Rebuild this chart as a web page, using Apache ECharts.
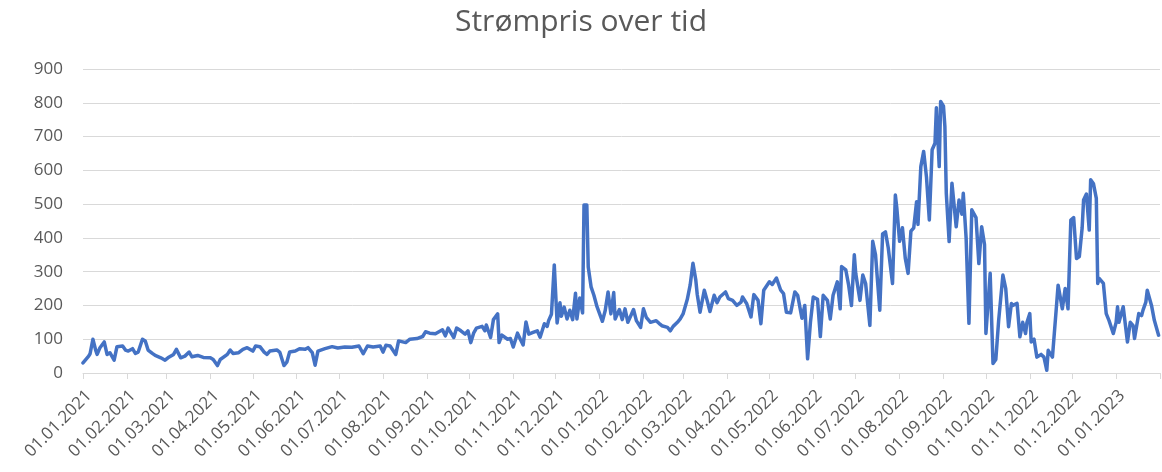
<!DOCTYPE html>
<html>
<head>
<meta charset="utf-8">
<script src="https://cdn.jsdelivr.net/npm/echarts@6/dist/echarts.min.js"></script>
<style>
  html, body { margin: 0; padding: 0; background: #fff; }
  #chart { width: 1162px; height: 472px; }
</style>
</head>
<body>
<div id="chart"></div>
<script>
// dag nr. (0 = 01.01.2021) og pris, lest av grafen
var sampleDay = [
  0,4,5,7,9,10,12,15,17,19,22,24,28,30,32,35,37,39,42,44,
  46,49,51,55,58,60,64,66,69,72,75,77,81,85,90,92,95,97,102,104,
  106,110,113,116,120,122,125,128,130,132,137,139,142,144,146,150,153,
  157,159,162,164,166,171,176,180,185,190,195,198,201,205,210,212,214,217,221,223,
  228,231,236,240,242,245,249,254,256,258,262,264,267,270,272,274,276,278,282,284,
  285,288,290,293,294,296,300,302,
  304,307,309,311,313,315,318,321,323,326,328,329,331,333,335,337,338,340,342,344,
  346,348,349,351,353,354,356,357,359,361,363,367,369,371,373,375,376,379,381,383,
  385,389,391,394,396,398,401,405,407,409,413,415,417,420,422,424,427,429,431,433,
  434,436,439,441,443,446,448,450,454,456,459,462,465,
  466,469,472,474,477,479,481,485,487,490,493,495,497,500,503,505,508,510,512,514,
  516,519,521,523,526,528,530,533,535,536,539,541,543,545,546,549,551,553,556,558,
  560,563,565,567,569,572,574,575,577,579,581,583,585,587,589,590,592,594,596,598,
  600,602,603,605,606,608,609,610,612,614,
  617,619,621,622,624,626,628,631,633,635,637,638,641,643,645,647,650,652,654,656,
  657,660,662,664,666,667,669,670,672,674,677,679,681,682,685,688,689,692,694,696,
  698,700,702,704,706,707,709,711,712,714,716,717,718,721,723,725,728,730,731,732,
  735,738,740,742,743,746,748,749,751,752,755,757,760
];
var price = [
  30,50,57,100,67,55,75,92,55,60,38,78,80,68,65,72,58,62,100,95,
  68,58,52,45,38,45,55,70,45,50,62,48,52,46,45,40,22,40,55,68,
  58,60,70,75,65,80,78,62,55,65,68,62,22,32,62,65,72,
  70,75,60,23,65,72,78,74,77,76,80,57,80,77,80,62,82,80,55,95,
  90,100,102,108,122,118,116,128,110,133,105,133,125,115,125,90,118,133,138,125,
  142,105,158,175,90,112,100,102,
  77,118,100,83,151,115,120,125,106,146,138,155,174,320,148,208,168,195,160,186,
  158,236,160,222,178,497,497,314,255,230,199,153,185,240,175,238,160,188,158,190,
  150,188,155,135,190,165,150,155,147,140,135,125,138,150,160,175,218,260,325,275,
  233,180,245,215,182,230,208,225,240,220,215,200,210,
  225,205,166,232,215,146,245,270,262,281,245,235,180,178,240,230,162,200,42,150,
  225,218,108,230,215,160,230,270,190,315,305,260,200,350,295,215,290,265,141,390,
  350,186,412,418,370,265,527,490,390,430,340,295,420,430,507,440,611,656,580,453,
  661,680,785,611,804,790,730,532,389,562,
  433,512,470,532,400,147,483,460,324,433,380,117,295,28,40,156,290,250,137,206,
  200,206,107,150,117,150,176,92,100,47,55,47,8,67,47,206,260,190,250,190,
  453,460,339,345,430,512,530,423,572,560,517,265,280,265,176,155,117,150,196,150,
  196,92,150,140,102,176,170,186,210,245,200,156,112
];
var yTicks = [0, 100, 200, 300, 400, 500, 600, 700, 800, 900];

// alle dager 01.01.2021 - 01.02.2023 som kategorier
var days = [];
(function () {
  var d = new Date(Date.UTC(2021, 0, 1));
  var end = Date.UTC(2023, 1, 1);
  while (d.getTime() <= end) {
    var dd = ('0' + d.getUTCDate()).slice(-2);
    var mm = ('0' + (d.getUTCMonth() + 1)).slice(-2);
    days.push(dd + '.' + mm + '.' + d.getUTCFullYear());
    d.setUTCDate(d.getUTCDate() + 1);
  }
})();

var font = '"Segoe UI", "Open Sans", sans-serif';
var chart = echarts.init(document.getElementById('chart'));

chart.setOption({
  animation: false,
  title: {
    text: 'Strømpris over tid',
    left: 'center',
    top: 2,
    textStyle: { fontFamily: font, fontSize: 30, fontWeight: 'normal', color: '#595959' }
  },
  grid: { left: 83, right: 2, top: 69, bottom: 99 },
  xAxis: {
    type: 'category',
    data: days,
    boundaryGap: false,
    axisLine: { lineStyle: { color: '#d9d9d9', width: 1 } },
    axisTick: {
      length: 6,
      lineStyle: { color: '#d9d9d9' },
      interval: function (idx, val) { return val.slice(0, 3) === '01.'; }
    },
    axisLabel: {
      rotate: 45,
      margin: 14,
      verticalAlign: 'top',
      color: '#595959',
      fontFamily: font,
      fontSize: 17,
      interval: function (idx, val) { return val.slice(0, 3) === '01.' && idx < days.length - 1; }
    },
    splitLine: { show: false }
  },
  yAxis: {
    type: 'value',
    min: yTicks[0],
    max: yTicks[yTicks.length - 1],
    interval: 100,
    axisLine: { show: false },
    axisTick: { show: false },
    axisLabel: { color: '#595959', fontFamily: font, fontSize: 17, margin: 20 },
    splitLine: { lineStyle: { color: '#d9d9d9', width: 1 } }
  },
  series: [{
    type: 'line',
    data: sampleDay.map(function (d, i) { return [d, price[i]]; }),
    showSymbol: false,
    lineStyle: { color: '#4472C4', width: 3.5, join: 'round', cap: 'round' }
  }]
});
</script>
</body>
</html>
